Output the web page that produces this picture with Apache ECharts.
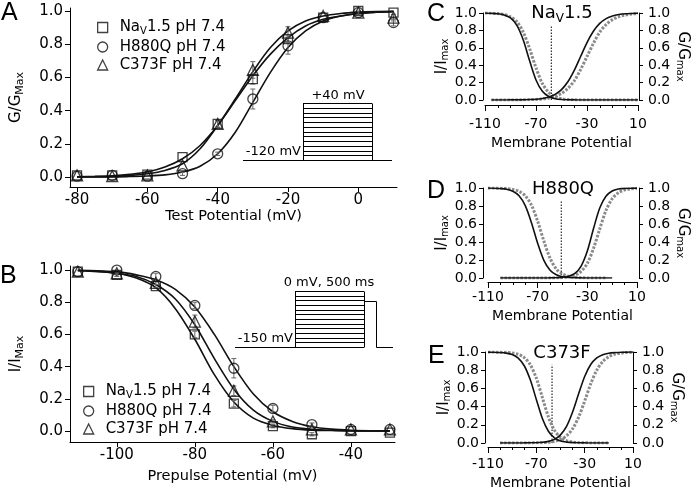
<!DOCTYPE html>
<html>
<head>
    <meta charset="utf-8">
    <title>NaV1.5 activation / inactivation</title>
    <script src="https://cdn.jsdelivr.net/npm/echarts@6/dist/echarts.min.js"></script>
    <style>
        html, body {margin: 0; padding: 0; background: #fff;}
        #chart {width: 693px; height: 491px;}
    </style>
</head>
<body>
<div id="chart"></div>
<script>
    // ---- A: conductance-voltage (G/Gmax) ----
    var testV = [-80, -70, -60, -50, -40, -30, -20, -10, 0, 10];
    var gNav = [0.01, 0.01, 0.015, 0.12, 0.32, 0.59, 0.83, 0.96, 1.00, 0.99];
    var gH880Q = [0.005, 0.01, 0.005, 0.02, 0.14, 0.47, 0.79, 0.96, 0.99, 0.93];
    var gC373F = [0.01, 0.005, 0.01, 0.07, 0.32, 0.645, 0.87, 0.97, 0.99, 0.96];
    var gNavErr = [0, 0, 0, 0, 0.02, 0.03, 0.02, 0, 0, 0];
    var gH880QErr = [0, 0, 0, 0.01, 0.01, 0.06, 0.05, 0, 0.01, 0.02];
    var gC373FErr = [0, 0, 0, 0, 0.02, 0.05, 0.035, 0, 0, 0.02];

    var fitVA = [-80, -75, -70, -65, -60, -55, -50, -45, -40, -35, -30, -25, -20, -15, -10, -5, 0, 5, 10];
    var fitGNav = [0.002, 0.004, 0.008, 0.016, 0.03, 0.06, 0.11, 0.19, 0.31, 0.46, 0.61, 0.74, 0.84, 0.91, 0.95, 0.97, 0.985, 0.992, 0.996];
    var fitGH880Q = [0, 0.001, 0.001, 0.003, 0.006, 0.013, 0.03, 0.065, 0.14, 0.27, 0.45, 0.63, 0.78, 0.88, 0.94, 0.97, 0.985, 0.993, 0.997];
    var fitGC373F = [0.001, 0.002, 0.004, 0.01, 0.02, 0.04, 0.08, 0.17, 0.31, 0.47, 0.635, 0.78, 0.88, 0.94, 0.97, 0.985, 0.993, 0.997, 0.998];

    // ---- B: steady-state inactivation (I/Imax) ----
    var preV = [-110, -100, -90, -80, -70, -60, -50, -40, -30];
    var iNav = [0.99, 0.97, 0.90, 0.60, 0.17, 0.03, -0.02, 0.0, -0.01];
    var iH880Q = [0.99, 1.00, 0.96, 0.78, 0.39, 0.14, 0.04, 0.01, 0.01];
    var iC373F = [0.99, 0.98, 0.92, 0.68, 0.25, 0.06, 0.01, 0.01, 0.01];
    var iNavErr = [0, 0.01, 0.01, 0.02, 0.02, 0.01, 0.01, 0, 0];
    var iH880QErr = [0, 0, 0.02, 0.02, 0.06, 0.02, 0.01, 0, 0];
    var iC373FErr = [0, 0, 0.01, 0.04, 0.03, 0.01, 0, 0, 0];

    var fitVB = [-110, -105, -100, -95, -90, -85, -80, -75, -70, -65, -60, -55, -50, -45, -40, -35, -30];
    var fitINav = [0.997, 0.99, 0.98, 0.95, 0.89, 0.76, 0.57, 0.35, 0.18, 0.08, 0.035, 0.015, 0.006, 0.003, 0.001, 0, 0];
    var fitIH880Q = [0.998, 0.995, 0.99, 0.97, 0.94, 0.88, 0.77, 0.60, 0.40, 0.23, 0.12, 0.06, 0.027, 0.012, 0.005, 0.002, 0.001];
    var fitIC373F = [0.997, 0.993, 0.98, 0.96, 0.91, 0.82, 0.66, 0.45, 0.26, 0.13, 0.06, 0.025, 0.011, 0.005, 0.002, 0.001, 0];

    // ---- C, D, E: overlays (black solid / grey dotted) ----
    var memV = [-110, -105, -100, -95, -90, -85, -80, -75, -70, -65, -60, -55, -50, -45, -40, -35, -30, -25, -20, -15, -10, -5, 0, 5, 10];
    var cInBlack = [1.0, 0.997, 0.992, 0.978, 0.943, 0.858, 0.69, 0.45, 0.23, 0.10, 0.04, 0.015, 0.005, 0.002, 0.001, 0, 0, 0, 0, 0, 0, 0, 0, 0, 0];
    var cActBlack = [null, 0, 0, 0, 0.001, 0.001, 0.002, 0.005, 0.009, 0.018, 0.034, 0.065, 0.119, 0.209, 0.34, 0.50, 0.66, 0.79, 0.88, 0.935, 0.966, 0.982, 0.991, 0.995, 0.998];
    var cInGray = [1.0, 0.997, 0.993, 0.982, 0.956, 0.90, 0.78, 0.59, 0.37, 0.19, 0.086, 0.037, 0.015, 0.006, 0.002, 0.001, 0, 0, 0, 0, 0, 0, 0, 0, 0];
    var cActGray = [null, 0, 0, 0, 0.001, 0.001, 0.002, 0.004, 0.007, 0.012, 0.023, 0.042, 0.076, 0.133, 0.22, 0.35, 0.50, 0.65, 0.78, 0.867, 0.924, 0.958, 0.977, 0.988, 0.994];

    var dInBlack = [1.0, 0.998, 0.994, 0.986, 0.964, 0.914, 0.805, 0.615, 0.385, 0.195, 0.086, 0.036, 0.014, 0.006, 0.002, 0.001, 0, 0, 0, 0, 0, null, null, null, null];
    var dActBlack = [null, null, 0, 0, 0, 0, 0, 0, 0, 0, 0.001, 0.002, 0.007, 0.019, 0.051, 0.133, 0.30, 0.55, 0.777, 0.908, 0.966, 0.988, 0.996, 0.998, 0.999];
    var dInGray = [1.0, 0.999, 0.998, 0.994, 0.985, 0.963, 0.914, 0.81, 0.63, 0.41, 0.22, 0.10, 0.044, 0.018, 0.007, 0.003, 0.001, 0, 0, 0, null, null, null, null, null];
    var dActGray = [null, null, 0, 0, 0, 0, 0, 0, 0, 0, 0.001, 0.002, 0.005, 0.013, 0.031, 0.073, 0.163, 0.33, 0.545, 0.75, 0.88, 0.948, 0.979, 0.991, 0.996];

    var eInBlack = [0.999, 0.998, 0.995, 0.988, 0.972, 0.933, 0.849, 0.694, 0.478, 0.269, 0.129, 0.056, 0.023, 0.010, 0.004, 0.002, 0.001, 0, 0, 0, 0, null, null, null, null];
    var eActBlack = [null, null, 0, 0, 0, 0, 0.001, 0.002, 0.003, 0.008, 0.018, 0.040, 0.089, 0.182, 0.34, 0.54, 0.731, 0.862, 0.935, 0.971, 0.987, 0.994, 0.998, 0.999, 1.0];
    var eInGray = [1.0, 0.999, 0.998, 0.996, 0.99, 0.974, 0.939, 0.86, 0.713, 0.50, 0.287, 0.14, 0.061, 0.026, 0.011, 0.004, 0.002, 0.001, 0, 0, 0, null, null, null, null];
    var eActGray = [null, null, 0, 0, 0, 0, 0, 0.001, 0.002, 0.004, 0.008, 0.018, 0.038, 0.079, 0.156, 0.285, 0.46, 0.65, 0.80, 0.896, 0.949, 0.976, 0.989, 0.995, 0.998];

    var crossV = [-58, -51, -57];     // dotted vertical marker in C, D, E
    var crossTop = [0.86, 0.85, 0.86];

    var ticksA = [-80, -60, -40, -20, 0];
    var ticksB = [-100, -80, -60, -40];
    var ticksMem = [-110, -70, -30, 10];
    var ticksY = [0, 0.2, 0.4, 0.6, 0.8, 1.0];

    var names = ['NaV1.5 pH 7.4', 'H880Q pH 7.4', 'C373F pH 7.4'];

    var FONT = 'DejaVu Sans';
    var myChart = echarts.init(document.getElementById('chart'));

    function pairs(xs, ys) {
        var out = [];
        for (var i = 0; i < xs.length; i++) {
            if (ys[i] !== null) out.push([xs[i], ys[i]]);
        }
        return out;
    }

    function triples(xs, ys, es) {
        var out = [];
        for (var i = 0; i < xs.length; i++) {
            if (es[i] > 0) out.push([xs[i], ys[i], es[i]]);
        }
        return out;
    }

    function errorBar(params, api) {
        var x = api.value(0), y = api.value(1), e = api.value(2);
        var hi = api.coord([x, y + e]);
        var lo = api.coord([x, y - e]);
        var st = {stroke: '#666', lineWidth: 1};
        return {
            type: 'group', children: [
                {type: 'line', shape: {x1: hi[0], y1: hi[1], x2: lo[0], y2: lo[1]}, style: st},
                {type: 'line', shape: {x1: hi[0] - 2.5, y1: hi[1], x2: hi[0] + 2.5, y2: hi[1]}, style: st},
                {type: 'line', shape: {x1: lo[0] - 2.5, y1: lo[1], x2: lo[0] + 2.5, y2: lo[1]}, style: st}
            ]
        };
    }

    function blackLine(xs, ys, xi, yi) {
        return {
            type: 'line', xAxisIndex: xi, yAxisIndex: yi, data: pairs(xs, ys),
            symbol: 'none', smooth: 0.3, silent: true, z: 3,
            lineStyle: {color: '#111', width: 1.6}
        };
    }

    function grayLine(xs, ys, xi, yi) {
        return {
            type: 'line', xAxisIndex: xi, yAxisIndex: yi, data: pairs(xs, ys),
            symbol: 'none', smooth: 0.3, silent: true, z: 2,
            lineStyle: {color: '#8a8a8a', width: 3, type: [2.5, 1.5], cap: 'butt'}
        };
    }

    function points(name, sym, size, xs, ys, xi, yi) {
        return {
            name: name, type: 'scatter', xAxisIndex: xi, yAxisIndex: yi, data: pairs(xs, ys),
            symbol: sym, symbolSize: size, z: 5,
            itemStyle: {color: 'rgba(255,255,255,0)', borderColor: '#111', borderWidth: 1.3}
        };
    }

    function errBars(xs, ys, es, xi, yi) {
        return {
            type: 'custom', xAxisIndex: xi, yAxisIndex: yi, data: triples(xs, ys, es),
            renderItem: errorBar, silent: true, z: 4
        };
    }

    function crossLine(k, xi, yi) {
        return {
            type: 'line', xAxisIndex: xi, yAxisIndex: yi,
            data: [[crossV[k], 0], [crossV[k], crossTop[k]]],
            symbol: 'none', silent: true, z: 1,
            lineStyle: {color: '#000', width: 1, type: [1.5, 1.5]}
        };
    }

    var subRich = {s: {fontSize: 11, fontFamily: FONT, color: '#000', padding: [9, 0, 0, 0]}};
    var subRichSmall = {s: {fontSize: 10, fontFamily: FONT, color: '#000', padding: [8, 0, 0, 0]}};

    function valueX(grid, min, max, ticks, name, gap, margin, offset, big) {
        return {
            gridIndex: grid, type: 'value', position: 'bottom', min: min, max: max, offset: offset,
            axisLine: {show: true, onZero: false, lineStyle: {color: '#000', width: 1}},
            axisTick: {show: true, customValues: ticks, length: big ? 5 : 6, lineStyle: {color: '#000'}},
            axisLabel: {customValues: ticks, margin: margin, fontSize: big ? 15 : 14, fontFamily: FONT, color: '#000'},
            splitLine: {show: false},
            name: name, nameLocation: 'middle', nameGap: gap,
            nameTextStyle: {fontSize: big ? 14.5 : 14, fontFamily: FONT, color: '#000'}
        };
    }

    // short ticks every 10 mV under C / D / E
    function minorX(grid, offset) {
        return {
            gridIndex: grid, type: 'value', position: 'bottom', min: -110, max: 10, interval: 10, offset: offset,
            axisLine: {show: false, onZero: false},
            axisTick: {show: true, length: 3, lineStyle: {color: '#000'}},
            axisLabel: {show: false}, splitLine: {show: false}
        };
    }

    function valueY(grid, min, max, pos, name, gap, rot, margin, offset, big) {
        return {
            gridIndex: grid, type: 'value', min: min, max: max, position: pos, offset: offset,
            axisLine: {show: true, onZero: false, lineStyle: {color: '#000', width: 1}},
            axisTick: {show: true, customValues: ticksY, length: big ? 5 : 4, lineStyle: {color: '#000'}},
            axisLabel: {
                customValues: ticksY, margin: margin, fontSize: big ? 15 : 14, fontFamily: FONT, color: '#000',
                formatter: function (v) { return v.toFixed(1); }
            },
            splitLine: {show: false},
            name: name, nameLocation: 'middle', nameGap: gap, nameRotate: rot,
            nameTextStyle: {fontSize: 15, fontFamily: FONT, color: '#000', rich: big ? subRich : subRichSmall}
        };
    }

    // ---- decorations: panel letters, titles, voltage protocols ----
    var graphics = [];

    function addText(x, y, text, size, align, family, rich) {
        graphics.push({
            type: 'text', x: x, y: y, silent: true,
            style: {
                text: text, fontSize: size, fontFamily: family || FONT, fill: '#000',
                align: align || 'left', verticalAlign: 'middle', rich: rich
            }
        });
    }

    function addLine(x1, y1, x2, y2) {
        graphics.push({
            type: 'line', silent: true, shape: {x1: x1, y1: y1, x2: x2, y2: y2},
            style: {stroke: '#000', lineWidth: 1}
        });
    }

    function addSteps(x0, x1, yTop, yBot, n) {
        for (var k = 0; k <= n; k++) {
            var y = Math.round(yTop + k * (yBot - yTop) / n) + 0.5;
            addLine(x0, y, x1, y);
        }
        addLine(x0 + 0.5, yTop + 0.5, x0 + 0.5, yBot + 0.5);
        addLine(x1 + 0.5, yTop + 0.5, x1 + 0.5, yBot + 0.5);
    }

    addText(1, 13, 'A', 25, 'left', 'Liberation Sans');
    addText(0, 276, 'B', 25, 'left', 'Liberation Sans');
    addText(427, 14, 'C', 25, 'left', 'Liberation Sans');
    addText(427, 191, 'D', 25, 'left', 'Liberation Sans');
    addText(428, 356, 'E', 25, 'left', 'Liberation Sans');

    var titleRich = {s: {fontSize: 12, fontFamily: FONT, fill: '#000', padding: [12, 0, 0, 0]}};
    addText(562, 13, 'Na{s|V}1.5', 18, 'center', FONT, titleRich);
    addText(563, 189, 'H880Q', 18, 'center');
    addText(562, 353, 'C373F', 18, 'center');

    // A protocol: -120 mV holding, steps up to +40 mV
    addLine(243, 160.5, 392, 160.5);
    addSteps(303, 372, 103, 160, 12);
    addText(338, 96, '+40 mV', 13, 'center');
    addText(301, 152, '-120 mV', 13, 'right');

    // B protocol: -150 mV, 500 ms prepulses, test to 0 mV
    addLine(235, 347.5, 295, 347.5);
    addSteps(295, 364, 291, 347, 12);
    addLine(364, 301.5, 376.5, 301.5);
    addLine(376.5, 301.5, 376.5, 347.5);
    addLine(376.5, 347.5, 393, 347.5);
    addText(329, 283, '0 mV, 500 ms', 13, 'center');
    addText(293, 339, '-150 mV', 13, 'right');

    var series = [
        blackLine(fitVA, fitGNav, 0, 0),
        blackLine(fitVA, fitGH880Q, 0, 0),
        blackLine(fitVA, fitGC373F, 0, 0),
        errBars(testV, gNav, gNavErr, 0, 0),
        errBars(testV, gH880Q, gH880QErr, 0, 0),
        errBars(testV, gC373F, gC373FErr, 0, 0),
        points(names[0], 'rect', 9, testV, gNav, 0, 0),
        points(names[1], 'circle', 10, testV, gH880Q, 0, 0),
        points(names[2], 'triangle', 11, testV, gC373F, 0, 0),

        blackLine(fitVB, fitINav, 1, 1),
        blackLine(fitVB, fitIH880Q, 1, 1),
        blackLine(fitVB, fitIC373F, 1, 1),
        errBars(preV, iNav, iNavErr, 1, 1),
        errBars(preV, iH880Q, iH880QErr, 1, 1),
        errBars(preV, iC373F, iC373FErr, 1, 1),
        points(names[0], 'rect', 9, preV, iNav, 1, 1),
        points(names[1], 'circle', 10, preV, iH880Q, 1, 1),
        points(names[2], 'triangle', 11, preV, iC373F, 1, 1),

        grayLine(memV, cInGray, 2, 2), grayLine(memV, cActGray, 2, 2),
        blackLine(memV, cInBlack, 2, 2), blackLine(memV, cActBlack, 2, 2),
        crossLine(0, 2, 2),
        grayLine(memV, dInGray, 4, 4), grayLine(memV, dActGray, 4, 4),
        blackLine(memV, dInBlack, 4, 4), blackLine(memV, dActBlack, 4, 4),
        crossLine(1, 4, 4),
        grayLine(memV, eInGray, 6, 6), grayLine(memV, eActGray, 6, 6),
        blackLine(memV, eInBlack, 6, 6), blackLine(memV, eActBlack, 6, 6),
        crossLine(2, 6, 6)
    ];

    function legendFor(left, top, gap) {
        return {
            data: names, orient: 'vertical', left: left, top: top, itemGap: gap,
            itemWidth: 10, itemHeight: 10, padding: 0, selectedMode: false,
            itemStyle: {borderWidth: 1.3, borderColor: '#111', color: 'rgba(255,255,255,0)'},
            formatter: function (name) {
                return name === names[0] ? 'Na{s|V}1.5 pH 7.4' : name;
            },
            textStyle: {
                fontSize: 15, fontFamily: FONT, color: '#000', padding: [0, 0, 0, 7],
                rich: {s: {fontSize: 10, fontFamily: FONT, color: '#000', padding: [8, 0, 0, 0]}}
            }
        };
    }

    myChart.setOption({
        animation: false,
        backgroundColor: '#fff',
        grid: [
            {left: 70, top: 8, width: 327, height: 179},
            {left: 70, top: 266, width: 325, height: 176},
            {left: 485, top: 13, width: 153, height: 87},
            {left: 488, top: 188, width: 149, height: 90},
            {left: 488, top: 352, width: 145, height: 91}
        ],
        xAxis: [
            valueX(0, -82, 11, ticksA, 'Test Potential (mV)', 22, 6, 0, true),
            valueX(1, -112, -28.7, ticksB, 'Prepulse Potential (mV)', 27, 6, 0, true),
            valueX(2, -110, 10, ticksMem, 'Membrane Potential', 31, 12, 5, false),
            minorX(2, 5),
            valueX(3, -110, 10, ticksMem, 'Membrane Potential', 27, 8, 4, false),
            minorX(3, 4),
            valueX(4, -110, 10, ticksMem, 'Membrane Potential', 29, 10, 4, false),
            minorX(4, 4)
        ],
        yAxis: [
            valueY(0, -0.06, 1.018, 'left', 'G/G{s|Max}', 44, 90, 7, 0, true),
            valueY(1, -0.068, 1.025, 'left', 'I/I{s|Max}', 44, 90, 7, 0, true),
            valueY(2, 0, 1, 'left', 'I/I{s|max}', 30, 90, 6, 2, false),
            valueY(2, 0, 1, 'right', 'G/G{s|max}', 34, -90, 9, 1, false),
            valueY(3, 0, 1, 'left', 'I/I{s|max}', 30, 90, 6, 5, false),
            valueY(3, 0, 1, 'right', 'G/G{s|max}', 34, -90, 9, 2, false),
            valueY(4, 0, 1, 'left', 'I/I{s|max}', 30, 90, 6, 3, false),
            valueY(4, 0, 1, 'right', 'G/G{s|max}', 34, -90, 9, 0, false)
        ],
        legend: [legendFor(97, 20, 3), legendFor(83, 384, 3)],
        graphic: graphics,
        series: series
    });
</script>
</body>
</html>
